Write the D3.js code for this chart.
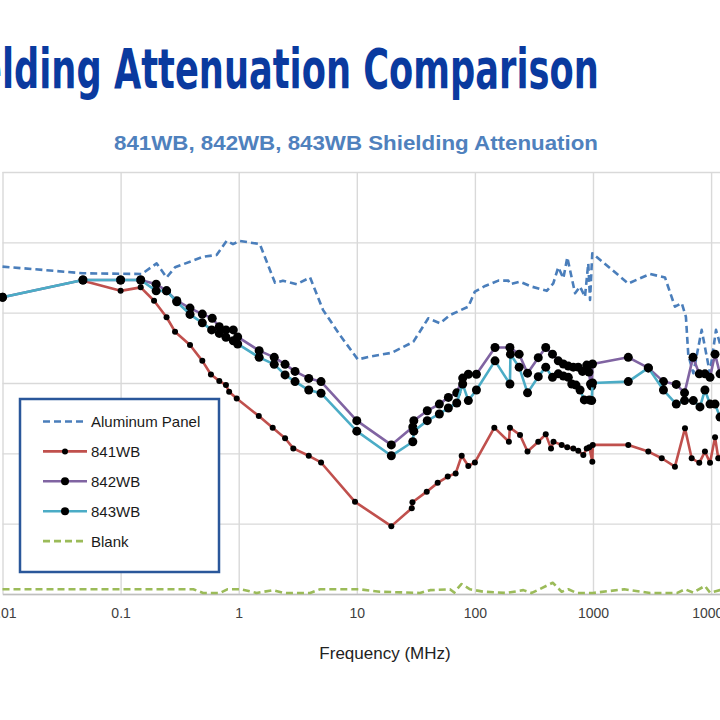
<!DOCTYPE html>
<html><head><meta charset="utf-8">
<script src="https://cdn.jsdelivr.net/npm/d3@7"></script>
<style>body{margin:0;background:#fff;overflow:hidden;} svg{display:block;font-family:Arial,"Liberation Sans",sans-serif;}</style>
</head><body><svg id="c" width="720" height="720"></svg>
<script>
// ---- data ----
const titleText = "Shielding Attenuation Comparison";
const subtitleText = "841WB, 842WB, 843WB Shielding Attenuation";
const xAxisTitle = "Frequency (MHz)";
const freqTicks = [0.01, 0.1, 1, 10, 100, 1000, 10000, 100000];
const freqTickLabels = ["0.01", "0.1", "1", "10", "100", "1000", "10000", "100000"];
const dbTicks = [0, 20, 40, 60, 80, 100, 120];
const seriesNames = ["Aluminum Panel", "841WB", "842WB", "843WB", "Blank"];

const aluminumFreq = [0.01,0.048,0.151,0.202,0.245,0.289,0.50,0.65,0.79,0.895,1.026,1.51,2.03,2.37,3.10,4.02,5.17,7.21,10.2,12.9,15.7,19.8,30.1,40.3,50.6,61.5,87.9,100,122,158,192,198,241,303,406,461,508,561,606,705,777,855,912,944,986,1990,3040,4070,4940,5640,6120,6410,7070,8320,9770,11000,12000,14000];
const aluminumDb   = [93.1,91.2,91.0,94.0,90.0,92.9,95.9,96.4,100.4,99.5,100.4,99.5,88.5,89.1,88.1,90.0,80.8,73.6,66.7,67.5,68.0,68.6,71.7,78.4,77.0,79.3,81.7,86.0,87.6,89.1,89.1,88.1,88.8,87.4,86.2,88.3,92.9,89.8,95.7,85.5,87.4,84.5,94.0,83.6,96.9,88.3,91.0,90.0,81.7,82.7,78.8,68.0,62.8,75.1,62.8,75.1,70.8,66.0];

const wb841Freq = [0.048,0.1,0.148,0.192,0.245,0.289,0.387,0.492,0.582,0.685,0.78,0.83,0.962,1.48,1.94,2.47,2.90,3.92,4.98,9.66,19.6,29.2,29.6,39.1,48.4,58.9,68.7,77.3,88,100,146,194,198,241,279,344,398,441,463,543,605,681,750,828,885,931,987,995,1990,2940,3820,4940,6010,6850,7940,8870,9790,10800,11500,13000];
const wb841Db   = [89.1,86.2,87.2,83.4,78.7,74.6,70.8,66.3,62.4,60.6,59.4,57.5,55.6,50.6,47.3,44.3,41.4,39.3,37.4,26.2,19.3,24.4,26.1,29.1,31.6,33.4,34.3,39.3,36.4,37.4,47.3,43.3,47.3,45.2,40.5,43.3,45.4,41.4,43.3,42.4,41.7,41.4,40.7,39.5,41.4,41.7,37.6,42.4,42.4,40.5,38.6,36.2,47.1,38.6,37.3,40.5,37.3,44.6,38.6,40.9];

const wb842Freq = [0.01,0.048,0.1,0.148,0.2,0.245,0.299,0.387,0.492,0.597,0.685,0.78,0.90,0.98,1.49,2.0,2.47,3.0,3.92,4.98,10,19.6,29.8,30.4,39.5,50,59.6,70.2,78.8,88,103,148,198,237,279,344,398,454,508,561,618,681,750,815,885,925,953,975,991,1990,2940,3950,5070,5960,7030,7940,8870,9790,10800,11900];
const wb842Db   = [84.4,89.3,89.3,89.3,88.1,86.2,83.4,81.3,79.6,78.4,76.0,75.1,75.1,73.1,69.2,67.3,65.3,63.3,61.3,60.4,49.3,42.4,47.5,49.3,52.1,54.0,55.9,57.2,61.4,62.5,62.5,70.1,70.1,68.2,62.8,67.2,70.1,68.2,66.3,65.4,64.8,64.5,64.5,63.3,65.1,63.1,59.7,59.1,65.4,67.3,64.3,60.4,59.6,57.2,67.3,62.6,62.6,61.6,68.2,62.6];

const wb843Freq = [0.01,0.048,0.1,0.148,0.2,0.245,0.299,0.387,0.492,0.59,0.685,0.78,0.90,0.98,1.49,2.0,2.47,3.0,3.92,4.98,10,19.6,29.8,30.4,39.5,50,59.6,70.2,78.8,88,103,148,198,200,237,279,344,398,454,508,561,618,661,718,777,844,931,975,991,1990,2940,3950,5070,5960,7070,8050,8870,9790,10800,11900];
const wb843Db   = [84.4,89.3,89.3,89.3,86.2,86.2,83.1,79.5,77.1,75.1,74.1,73.0,72.0,71.1,67.3,65.3,62.3,60.4,58.0,57.1,46.3,39.3,43.3,46.3,49.3,51.2,52.9,54.3,59.7,55.0,58.0,66.3,59.7,68.2,64.5,57.2,61.8,64.5,61.6,62.6,62.0,61.6,59.7,59.4,58.0,55.2,55.2,55.0,60.0,60.4,64.3,58.0,54.0,55.0,55.0,53.2,58.0,54.0,54.0,50.3];

const blankFreq = [0.01,0.413,0.50,0.695,0.80,1.05,1.42,1.95,2.43,4.02,4.89,10.5,15.7,34.3,41.7,61.5,66.8,76.9,91,118,186,257,303,456,543,618,728,1000,1840,3040,5170,6010,7040,8870,9790,11900,14000];
const blankDb   = [1.34,1.34,0.3,0.3,1.34,1.34,0.3,1.1,0.3,0.3,1.34,1.34,0.65,0.3,1.1,1.34,0.4,2.84,1.34,0.65,0.3,1.1,0.3,3.2,0.65,1.34,0.3,0.3,1.34,0.3,0.3,1.34,0.4,2.3,0.4,1.1,1.1];

// ---- chart ----
const svg = d3.select("#c");
const x = d3.scaleLog().domain([0.01, 100000]).range([2.5, 2.5 + 7 * 118.1]);
const y = d3.scaleLinear().domain([0, 120]).range([594, 172]);
const W = 830;

// title
const title = svg.append("text")
  .attr("font-family", "'Liberation Sans Narrow','DejaVu Sans Condensed','Roboto Condensed','Liberation Sans',Arial,sans-serif")
  .attr("font-weight", "bold").attr("font-size", 56).attr("fill", "#0a3a9f")
  .text(titleText);
(function(){
  const n = title.node();
  let hidden, visible;
  try { hidden = n.getSubStringLength(0, 4); visible = n.getSubStringLength(4, titleText.length - 4); }
  catch(e) { const full = n.getComputedTextLength(); hidden = full * 0.11; visible = full - hidden; }
  const sx = 597 / visible;
  title.attr("transform", `translate(${2 - hidden * sx},88) scale(${sx},1)`);
})();

svg.append("text").attr("x", 356).attr("y", 150).attr("text-anchor", "middle")
  .attr("font-weight", "bold").attr("font-size", 21).attr("fill", "#4f81bd")
  .attr("textLength", 484).attr("lengthAdjust", "spacingAndGlyphs")
  .text(subtitleText);

// gridlines
const g = svg.append("g");
g.append("g").attr("transform", "translate(2.5,0)")
  .call(d3.axisLeft(y).tickValues(dbTicks).tickSize(-W).tickFormat(""))
  .call(s => { s.select(".domain").remove(); s.selectAll("line").attr("stroke", "#d9d9d9").attr("stroke-width", 1.4); });
g.append("g").attr("transform", "translate(0,172)")
  .call(d3.axisBottom(x).tickValues(freqTicks).tickSize(422).tickFormat(""))
  .call(s => { s.select(".domain").remove(); s.selectAll("line").attr("stroke", "#d9d9d9").attr("stroke-width", 1.4); });

// x axis
const xa = svg.append("g").attr("transform", "translate(0,594)")
  .call(d3.axisBottom(x).tickValues(freqTicks).tickSize(0).tickPadding(14)
    .tickFormat((d, i) => freqTickLabels[i]));
xa.select(".domain").attr("stroke", "#bfbfbf").attr("stroke-width", 1.4);
xa.selectAll("text").attr("font-size", 14).attr("fill", "#404040").attr("font-family", "Arial,'Liberation Sans',sans-serif");

svg.append("text").attr("x", 385).attr("y", 659).attr("text-anchor", "middle")
  .attr("font-size", 17).attr("fill", "#222").text(xAxisTitle);

// series
const line = d3.line().x(d => x(d[0])).y(d => y(d[1]));
const zip = (f, v) => f.map((d, i) => [d, v[i]]);
const series = [
  { name: seriesNames[0], data: zip(aluminumFreq, aluminumDb), color: "#4a7ebb", dash: "7,4", r: 0 },
  { name: seriesNames[1], data: zip(wb841Freq, wb841Db), color: "#c0504d", dash: null, r: 3 },
  { name: seriesNames[2], data: zip(wb842Freq, wb842Db), color: "#8064a2", dash: null, r: 4.5 },
  { name: seriesNames[3], data: zip(wb843Freq, wb843Db), color: "#4bacc6", dash: null, r: 4.5 },
  { name: seriesNames[4], data: zip(blankFreq, blankDb), color: "#9bbb59", dash: "7,4", r: 0 }
];
series.forEach(s => {
  const sg = svg.append("g");
  sg.append("path").datum(s.data).attr("d", line).attr("fill", "none")
    .attr("stroke", s.color).attr("stroke-width", 2.6).attr("stroke-linejoin", "round")
    .attr("stroke-dasharray", s.dash);
  if (s.r) sg.selectAll("circle").data(s.data).join("circle")
    .attr("cx", d => x(d[0])).attr("cy", d => y(d[1])).attr("r", s.r).attr("fill", "#000");
});

// legend
const lg = svg.append("g");
lg.append("rect").attr("x", 20).attr("y", 399).attr("width", 199).attr("height", 173)
  .attr("fill", "#fff").attr("stroke", "#2a579a").attr("stroke-width", 2.5);
const legendR = [0, 3, 4, 4, 0];
series.forEach((s, i) => {
  const cy = 421.5 + i * 29.9;
  lg.append("line").attr("x1", 43).attr("x2", 87).attr("y1", cy).attr("y2", cy)
    .attr("stroke", s.color).attr("stroke-width", 2.6).attr("stroke-dasharray", s.dash);
  if (legendR[i]) lg.append("circle").attr("cx", 65).attr("cy", cy).attr("r", legendR[i]).attr("fill", "#000");
  lg.append("text").attr("x", 91).attr("y", cy + 5.5).attr("font-size", 15).attr("fill", "#1a1a1a").text(s.name);
});
</script></body></html>
